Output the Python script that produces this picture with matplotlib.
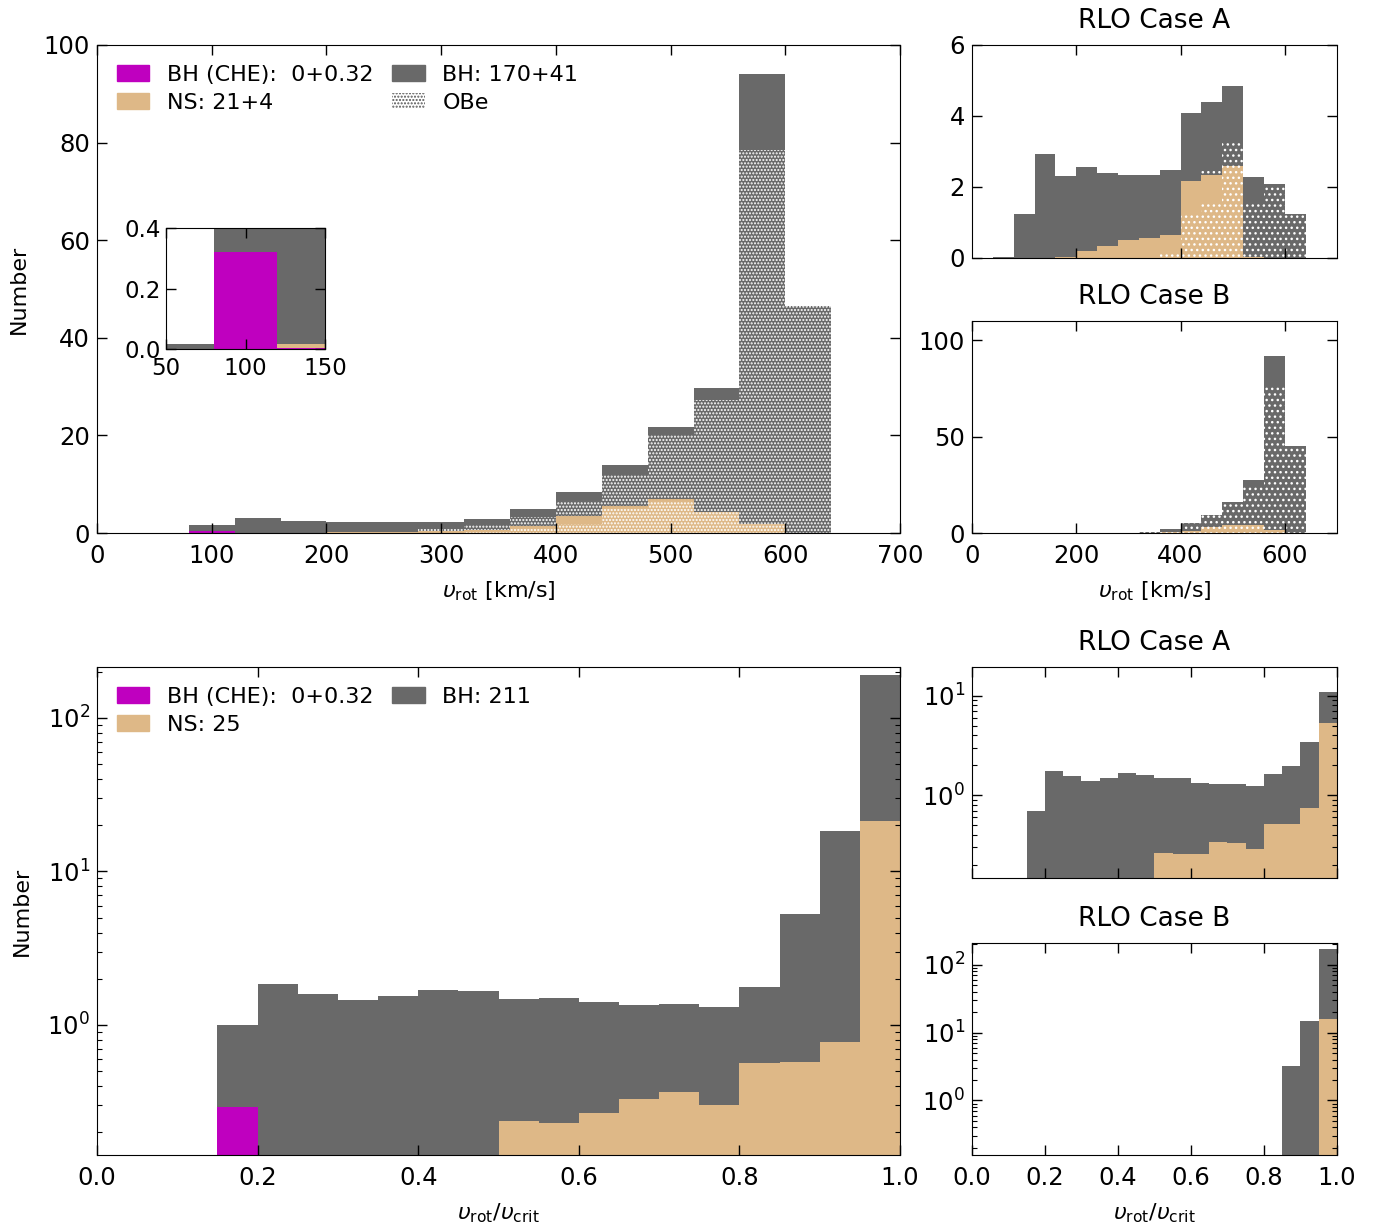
import numpy as np
import matplotlib
matplotlib.use('Agg')
import matplotlib.pyplot as plt
from matplotlib.patches import Patch

# --- colours ---
C_CHE = '#BF00BF'
C_NS = 'burlywood'
C_BH = 'dimgray'

# --- top row: v_rot histograms (bins of 40 km/s, 40..640) ---
v_edges = np.arange(40, 641, 40)

che_all = [0, 0.32, 0.005, 0, 0, 0, 0, 0, 0, 0, 0, 0, 0, 0, 0]
ns_all = [0, 0, 0.01, 0.04, 0.2, 0.3, 0.45, 0.6, 1.4, 3.4, 5.6, 7.0, 4.3, 1.8, 0]
bh_all = [0.015, 1.23, 2.98, 2.34, 2.15, 2.05, 1.9, 2.3, 3.6, 5.1, 8.3, 14.8, 25.5, 92.2, 46.6]
ns_obe_all = [0, 0, 0, 0, 0, 0, 0.1, 0.3, 1.0, 1.8, 5.0, 6.5, 4.3, 1.8, 0]
bh_obe_all = [0, 0, 0, 0, 0, 0, 0.4, 1.1, 1.9, 3.1, 6.3, 13.1, 23.0, 76.7, 46.6]

ns_A = [0, 0, 0.01, 0.04, 0.19, 0.33, 0.51, 0.57, 0.65, 2.16, 2.33, 2.58, 0.03, 0, 0]
bh_A = [0.04, 1.25, 2.93, 2.26, 2.38, 2.05, 1.83, 1.77, 1.82, 1.92, 2.07, 2.27, 2.25, 2.09, 1.25]
ns_obe_A = [0, 0, 0, 0, 0, 0, 0, 0, 0.1, 1.25, 1.57, 2.58, 0.03, 0, 0]
bh_obe_A = [0, 0, 0, 0, 0, 0, 0, 0, 0, 0.05, 0.12, 0.66, 1.52, 2.0, 1.25]

ns_B = [0, 0, 0, 0, 0, 0, 0, 0, 0.75, 1.3, 3.3, 4.0, 4.0, 1.8, 0]
bh_B = [0, 0, 0, 0, 0, 0, 0, 0.7, 1.45, 3.7, 5.8, 12.0, 23.6, 90.1, 45.2]
ns_obe_B = [0, 0, 0, 0, 0, 0, 0, 0, 0.75, 1.3, 3.3, 4.0, 4.0, 1.8, 0]
bh_obe_B = [0, 0, 0, 0, 0, 0, 0, 0.7, 1.4, 3.7, 5.8, 12.0, 20.7, 74.4, 45.2]

# --- bottom row: v_rot/v_crit histograms (bins of 0.05) ---
f_edges = np.linspace(0, 1, 21)

che_f = [0, 0, 0, 0.29] + [0] * 16
ns_f = [0] * 10 + [0.238, 0.231, 0.267, 0.331, 0.364, 0.303, 0.564, 0.575, 0.776, 21.4]
bh_f = [0, 0, 0, 0.71, 1.84, 1.58, 1.45, 1.54, 1.70, 1.66,
        1.23, 1.27, 1.14, 1.01, 1.0, 1.01, 1.19, 4.7, 17.7, 170.6]

ns_fA = [0] * 10 + [0.265, 0.257, 0.257, 0.341, 0.331, 0.286, 0.513, 0.513, 0.747, 5.33]
bh_fA = [0, 0, 0, 0.69, 1.74, 1.56, 1.39, 1.50, 1.67, 1.61,
         1.235, 1.233, 1.083, 0.959, 0.969, 0.964, 1.107, 1.437, 2.663, 5.47]

ns_fB = [0] * 19 + [15.7]
bh_fB = [0] * 17 + [3.23, 15.0, 156.3]

TICK_FS = 17.5
LAB_FS = 16
TITLE_FS = 19


def stacked(ax, edges, layers, colors):
    left = edges[:-1]
    width = np.diff(edges)
    bottom = np.zeros(len(left))
    bottoms = []
    for h, c in zip(layers, colors):
        h = np.asarray(h, dtype=float)
        ax.bar(left, h, width=width, bottom=bottom, align='edge', color=c, lw=0)
        bottoms.append(bottom.copy())
        bottom = bottom + h
    return bottoms


def obe(ax, edges, heights, bottom, hatch):
    ax.bar(edges[:-1], heights, width=np.diff(edges), bottom=bottom, align='edge',
           facecolor='none', edgecolor='white', lw=0, hatch=hatch)


def style(ax, size=TICK_FS):
    ax.tick_params(which='both', direction='in', top=True, right=True, labelsize=size)
    ax.tick_params(which='major', length=7, width=1)
    ax.tick_params(which='minor', length=3.5, width=0.8)
    ax.tick_params(axis='x', pad=8)
    ax.tick_params(axis='y', pad=5)


def legend(ax, handles, labels):
    ax.legend(handles, labels, ncol=2, loc='upper left', frameon=False, fontsize=16,
              handlelength=1.45, handleheight=0.75, labelspacing=0.35,
              columnspacing=0.85, borderaxespad=0.5)


plt.rcParams['hatch.linewidth'] = 1.0
fig = plt.figure(figsize=(13.84, 12.29), dpi=100)

ax1 = fig.add_axes([0.0701, 0.5663, 0.5802, 0.3971])
ax2 = fig.add_axes([0.7023, 0.7901, 0.2637, 0.1733])
ax3 = fig.add_axes([0.7023, 0.5663, 0.2637, 0.1725])
ax4 = fig.add_axes([0.0701, 0.0602, 0.5802, 0.3971])
ax5 = fig.add_axes([0.7023, 0.2856, 0.2637, 0.1717])
ax6 = fig.add_axes([0.7023, 0.0602, 0.2637, 0.1725])

# --- top main ---
b = stacked(ax1, v_edges, [che_all, ns_all, bh_all], [C_CHE, C_NS, C_BH])
obe(ax1, v_edges, ns_obe_all, b[1], '.....')
obe(ax1, v_edges, bh_obe_all, b[2], '.....')
ax1.set_xlim(0, 700)
ax1.set_ylim(0, 100)
ax1.set_ylabel('Number', fontsize=LAB_FS, labelpad=11)
ax1.set_xlabel(r'$\upsilon_{\rm rot}$ [km/s]', fontsize=LAB_FS, labelpad=8)
style(ax1)
legend(ax1, [Patch(color=C_CHE), Patch(color=C_NS), Patch(color=C_BH),
             Patch(facecolor='white', edgecolor='#555555', lw=0, hatch='.....')],
       ['BH (CHE):  0+0.32', 'NS: 21+4', 'BH: 170+41', 'OBe'])

ins = ax1.inset_axes([0.086, 0.377, 0.198, 0.248])
stacked(ins, v_edges, [che_all, ns_all, bh_all], [C_CHE, C_NS, C_BH])
ins.set_xlim(50, 150)
ins.set_ylim(0, 0.4)
ins.set_xticks([50, 100, 150])
ins.set_yticks([0, 0.2, 0.4])
style(ins, 16.5)
ins.tick_params(axis='x', pad=6)
ins.tick_params(axis='y', pad=4)

# --- top right: case A / case B ---
stacked(ax2, v_edges, [ns_A, bh_A], [C_NS, C_BH])
obe(ax2, v_edges, ns_obe_A, np.zeros(len(ns_A)), '...')
obe(ax2, v_edges, bh_obe_A, np.asarray(ns_A), '...')
ax2.set_xlim(0, 700)
ax2.set_ylim(0, 6)
ax2.set_yticks([0, 2, 4, 6])
ax2.set_xticks([200, 400, 600])
ax2.set_title('RLO Case A', fontsize=TITLE_FS, pad=12)
style(ax2)
ax2.tick_params(labelbottom=False)

stacked(ax3, v_edges, [ns_B, bh_B], [C_NS, C_BH])
obe(ax3, v_edges, ns_obe_B, np.zeros(len(ns_B)), '...')
obe(ax3, v_edges, bh_obe_B, np.asarray(ns_B), '...')
ax3.set_xlim(0, 700)
ax3.set_ylim(0, 110)
ax3.set_yticks([0, 50, 100])
ax3.set_xticks([0, 200, 400, 600])
ax3.set_title('RLO Case B', fontsize=TITLE_FS, pad=12)
ax3.set_xlabel(r'$\upsilon_{\rm rot}$ [km/s]', fontsize=LAB_FS, labelpad=8)
style(ax3)

# --- bottom main ---
ax4.set_yscale('log')
stacked(ax4, f_edges, [che_f, ns_f, bh_f], [C_CHE, C_NS, C_BH])
ax4.set_xlim(0, 1)
ax4.set_ylim(0.142, 215)
ax4.set_ylabel('Number', fontsize=LAB_FS, labelpad=11)
ax4.set_xlabel(r'$\upsilon_{\rm rot}/\upsilon_{\rm crit}$', fontsize=LAB_FS, labelpad=8)
style(ax4)
legend(ax4, [Patch(color=C_CHE), Patch(color=C_NS), Patch(color=C_BH)],
       ['BH (CHE):  0+0.32', 'NS: 25', 'BH: 211'])

# --- bottom right ---
ax5.set_yscale('log')
stacked(ax5, f_edges, [ns_fA, bh_fA], [C_NS, C_BH])
ax5.set_xlim(0, 1)
ax5.set_ylim(0.147, 19.5)
ax5.set_title('RLO Case A', fontsize=TITLE_FS, pad=12)
style(ax5)
ax5.tick_params(labelbottom=False)

ax6.set_yscale('log')
stacked(ax6, f_edges, [ns_fB, bh_fB], [C_NS, C_BH])
ax6.set_xlim(0, 1)
ax6.set_ylim(0.157, 209)
ax6.set_title('RLO Case B', fontsize=TITLE_FS, pad=12)
ax6.set_xlabel(r'$\upsilon_{\rm rot}/\upsilon_{\rm crit}$', fontsize=LAB_FS, labelpad=8)
style(ax6)

fig.savefig('out.png', dpi=100)
